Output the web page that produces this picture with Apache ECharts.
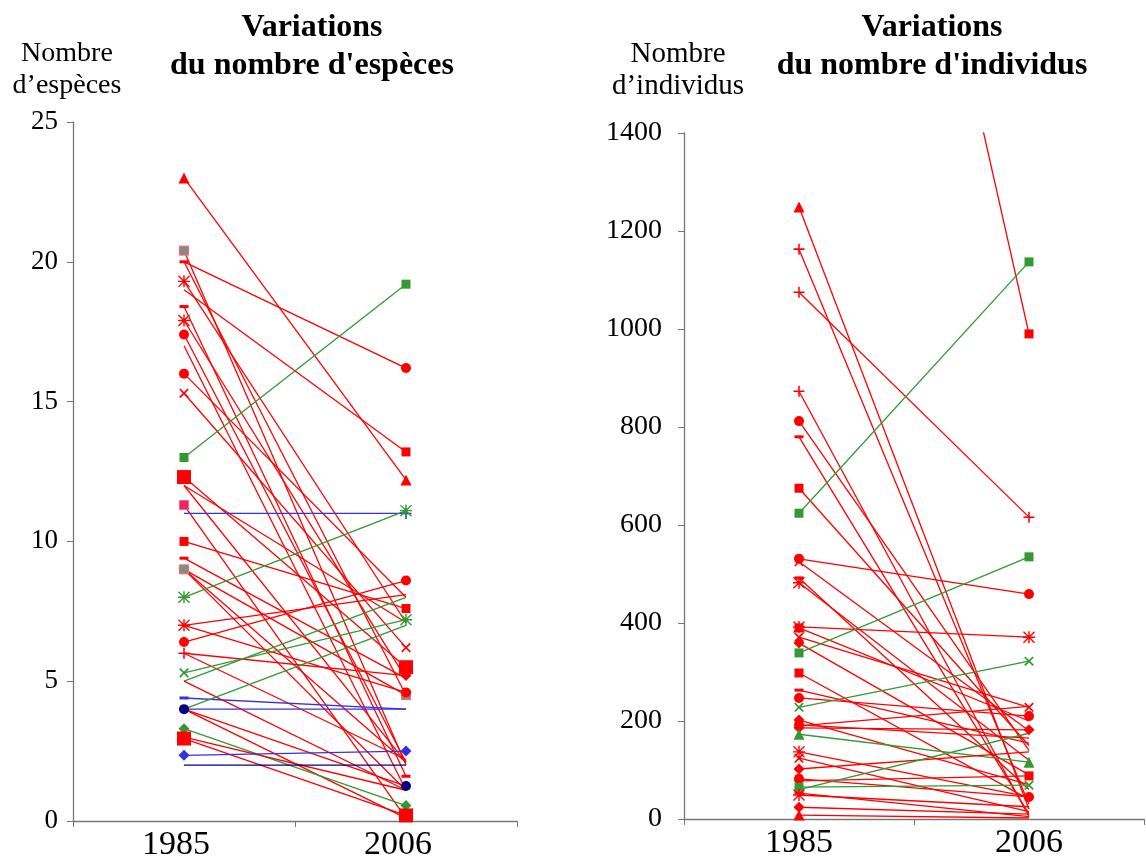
<!DOCTYPE html>
<html><head><meta charset="utf-8">
<script src="https://cdn.jsdelivr.net/npm/echarts@6/dist/echarts.min.js"></script>
<style>html,body{margin:0;padding:0;background:#fff}#c{width:1146px;height:862px}</style>
</head><body><div id="c"></div>
<script>
// ---------- DATA ----------
const years = ['1985', '2006'];
const speciesTicks = [0, 5, 10, 15, 20, 25];
const individusTicks = [0, 200, 400, 600, 800, 1000, 1200, 1400];

// Panel 1: number of species per site (1985, 2006)
const species1985 = [23, 20.4, 20, 20, 19.3, 19, 18.4, 17.9, 17.4, 17, 16, 15.3, 13, 12.3, 12, 12, 11.3, 11, 10, 9.4, 9, 9, 9, 8, 7, 7, 6.4, 6, 6, 5.3, 5, 5, 4.4, 4, 4, 4, 3.3, 2.95, 3, 2.35, 2, 4];
const species2006 = [12.2, 2.0, 16.2, 4.5, 7.1, 13.2, 1.6, 5.1, 2.1, 1.1, 8.0, 6.2, 19.2, 5.5, 2.1, 7.1, 0.1, 11.0, 7.6, 5.1, 4.5, 2.1, 1.1, 11.1, 8.1, 4.6, 8.6, 5.2, 2.2, 7.2, 8.0, 1.1, 4.0, 1.25, 7.0, 0.1, 0.55, 0.2, 1.1, 2.5, 2.0, 4.0];

// Panel 2: number of individuals per site (1985, 2006)
const individus1985 = [3070, 1249, 1163, 1075, 873, 812, 780, 675, 624, 531, 525, 492, 482, 392, 390, 371, 359, 339, 298, 263, 247, 228, 202, 192, 186, 173, 137, 124, 102, 82, 78, 65, 53, 49, 24, 8, 60, 190];
const individus2006 = [990, 20, 30, 616, 5, 140, 10, 150, 1137, 459, 180, 60, 120, 371, 200, 228, 90, 535, 40, 155, 210, 322, 70, 165, 182, 116, 45, 15, 137, 45, 88, 69, 5, 25, 10, 2, 175, 230];

// ---------- STYLES (colour, marker 1985, marker 2006) ----------
const R = '#ff0000', G = '#339933', B = '#3333dd', N = '#000080';
const speciesStyle = [
  [R,'tri','tri'],[R,'gsq','none'],[R,'dash','circle'],[R,'none','none'],[R,'star','none'],[R,'none','rect'],
  [R,'dash','dash'],[R,'star','none'],[R,'circle','none'],[R,'none','none'],[R,'circle','none'],[R,'x','x'],
  [G,'rect','rect'],[R,'big','big'],[R,'none','none'],[R,'none','none'],[R,'psq','none'],[B,'none','bcross'],
  [R,'rect','rect'],[R,'dash','none'],[R,'gsq','gsq'],[R,'none','none'],[R,'none','none'],[G,'star','star'],
  [R,'star','none'],[R,'none','circle'],[R,'circle','circle'],[R,'cross','diamond'],[R,'none','none'],[G,'x','star'],
  [G,'none','none'],[R,'none','none'],[B,'bdash','none'],[R,'ncircle','ncircle'],[G,'none','none'],[R,'none','none'],
  [G,'diamond','diamond'],[R,'big','big'],[R,'none','none'],[B,'diamond','diamond'],[N,'none','none'],[B,'none','none']
];
const individusStyle = [
  [R,'none','rect'],[R,'tri','none'],[R,'cross','none'],[R,'cross','cross'],[R,'cross','none'],[R,'circle','none'],
  [R,'dash','none'],[R,'rect','none'],[G,'rect','rect'],[R,'circle','circle'],[R,'x','none'],[R,'dash','none'],
  [R,'star','none'],[R,'star','star'],[R,'rect','none'],[R,'x','x'],[R,'diamond','none'],[G,'rect','rect'],
  [R,'rect','none'],[R,'dash','none'],[R,'circle','circle'],[G,'x','x'],[R,'diamond','none'],[R,'circle','none'],
  [R,'diamond','diamond'],[G,'tri','tri'],[R,'star','none'],[R,'x','none'],[R,'diamond','none'],[R,'circle','circle'],
  [R,'dash','rect'],[G,'rect','x'],[R,'dash','none'],[R,'star','none'],[R,'diamond','none'],[R,'tri','none'],
  [G,'none','none'],[R,'none','none']
];

// ---------- SYMBOLS ----------
const PLUS = 'path://M4.3,0h1.4v4.3h4.3v1.4h-4.3v4.3h-1.4v-4.3h-4.3v-1.4h4.3z';
const STAR = 'path://M4.4,0h1.2v10h-1.2z M0,4.4h10v1.2h-10z M0.8,0L10,9.2L9.2,10L0,0.8z M9.2,0L10,0.8L0.8,10L0,9.2z';
function marker(kind, color) {
  switch (kind) {
    case 'tri': return {symbol:'triangle', symbolSize:11, itemStyle:{color}};
    case 'rect': return {symbol:'rect', symbolSize:9, itemStyle:{color}};
    case 'big': return {symbol:'rect', symbolSize:14, itemStyle:{color}};
    case 'gsq': return {symbol:'rect', symbolSize:9, itemStyle:{color:'#888888', borderColor:'#ff6666', borderWidth:1}};
    case 'psq': return {symbol:'rect', symbolSize:9, itemStyle:{color:'#ee2266', borderColor:'#ff6666', borderWidth:1}};
    case 'circle': return {symbol:'circle', symbolSize:10, itemStyle:{color}};
    case 'ncircle': return {symbol:'circle', symbolSize:10, itemStyle:{color:'#000080'}};
    case 'diamond': return {symbol:'diamond', symbolSize:11, itemStyle:{color}};
    case 'dash': return {symbol:'rect', symbolSize:[9,3], itemStyle:{color}};
    case 'bdash': return {symbol:'rect', symbolSize:[9,3], itemStyle:{color:'#3333dd'}};
    case 'cross': return {symbol:PLUS, symbolSize:11, itemStyle:{color}};
    case 'bcross': return {symbol:PLUS, symbolSize:11, itemStyle:{color:'#3333dd'}};
    case 'x': return {symbol:PLUS, symbolSize:12, symbolRotate:45, itemStyle:{color}};
    case 'star': return {symbol:STAR, symbolSize:12, itemStyle:{color}};
    default: return {symbol:'none'};
  }
}
function buildSeries(v85, v06, styles, axisIndex) {
  return v85.map((a, i) => {
    const st = styles[i];
    return {
      type:'line', xAxisIndex:axisIndex, yAxisIndex:axisIndex, clip:true,
      showAllSymbol:true, silent:true,
      lineStyle:{color:st[0], width:1.3},
      itemStyle:{color:st[0]},
      data:[Object.assign({value:[years[0], a]}, marker(st[1], st[0])),
            Object.assign({value:[years[1], v06[i]]}, marker(st[2], st[0]))]
    };
  });
}

const FONT = '"Liberation Serif", "Times New Roman", serif';
const axisCol = '#777777';
function xAx(gi, pad) {
  return {gridIndex:gi, type:'category', data:years, boundaryGap:true,
    axisLine:{lineStyle:{color:axisCol, width:1.3}},
    axisTick:{show:true, length:6, lineStyle:{color:axisCol}},
    axisLabel:{fontFamily:FONT, fontSize:34, color:'#000', margin:7, padding:pad}};
}
function yAx(gi, ticks, fs, margin) {
  return {gridIndex:gi, type:'value', min:ticks[0], max:ticks[ticks.length-1], interval:ticks[1]-ticks[0],
    splitLine:{show:false},
    axisLine:{show:true, lineStyle:{color:axisCol, width:1.3}},
    axisTick:{show:true, inside:false, length:6, lineStyle:{color:axisCol}},
    axisLabel:{fontFamily:FONT, fontSize:fs, color:'#000', margin:margin, formatter:v => String(v)}};
}

const chart = echarts.init(document.getElementById('c'), null, {renderer:'canvas'});
chart.setOption({
  animation:false,
  backgroundColor:'#fff',
  grid:[{left:73, top:122, width:444, height:702}, {left:684, top:133, width:460, height:686}],
  xAxis:[xAx(0, [0, 16, 0, 0]), xAx(1, 0)],
  yAxis:[yAx(0, speciesTicks, 27, 15), yAx(1, individusTicks, 28, 22)],
  graphic:[
    {type:'text', x:312, y:9, style:{text:'Variations\ndu nombre d\'espèces', font:'bold 32px '+FONT, fill:'#000', textAlign:'center', lineHeight:38}},
    {type:'text', x:67, y:38, style:{text:'Nombre\nd’espèces', font:'28px '+FONT, fill:'#000', textAlign:'center', lineHeight:32}},
    {type:'text', x:932, y:9, style:{text:'Variations\ndu nombre d\'individus', font:'bold 32px '+FONT, fill:'#000', textAlign:'center', lineHeight:38}},
    {type:'text', x:678, y:38, style:{text:'Nombre\nd’individus', font:'29px '+FONT, fill:'#000', textAlign:'center', lineHeight:32}}
  ],
  series:[].concat(buildSeries(species1985, species2006, speciesStyle, 0),
                   buildSeries(individus1985, individus2006, individusStyle, 1))
});
</script></body></html>
